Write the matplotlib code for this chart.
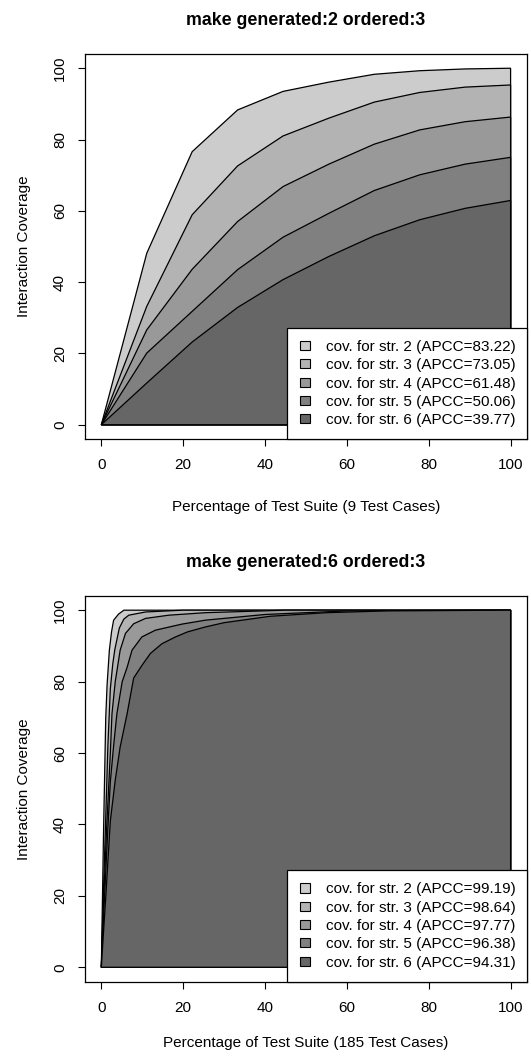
import numpy as np
import matplotlib.pyplot as plt
from matplotlib.patches import Patch, Rectangle

plt.rcParams['font.family'] = ['Liberation Sans', 'DejaVu Sans']

# top chart: 9 test cases
x_top = [0, 11.1, 22.2, 33.3, 44.4, 55.6, 66.7, 77.8, 88.9, 100]
top_str2 = [0, 48.1, 76.6, 88.3, 93.5, 96.1, 98.3, 99.3, 99.8, 100]
top_str3 = [0, 33.2, 58.9, 72.6, 81.0, 86.0, 90.5, 93.2, 94.7, 95.3]
top_str4 = [0, 26.6, 43.6, 57.0, 66.8, 73.1, 78.7, 82.7, 85.0, 86.3]
top_str5 = [0, 20.1, 31.8, 43.5, 52.6, 59.3, 65.7, 70.1, 73.1, 75.0]
top_str6 = [0, 11.7, 23.2, 32.9, 40.7, 47.2, 53.0, 57.5, 60.7, 62.9]
top_apcc = [83.22, 73.05, 61.48, 50.06, 39.77]

# bottom chart: 185 test cases
b2_x = [0, 0.54, 1.08, 1.4, 1.96, 2.5, 3.0, 4.2, 5.5, 100]
b2_y = [0, 38, 70, 79, 88.8, 94, 97.2, 98.9, 100, 100]
b3_x = [0, 0.54, 1.0, 1.6, 2.2, 2.8, 3.3, 4.4, 5.5, 6.7, 10.8, 20, 100]
b3_y = [0, 22, 39, 62, 78, 85, 89, 95, 97.5, 98.6, 99.5, 100, 100]
b4_x = [0, 0.54, 1.3, 2.2, 2.6, 3.4, 4.6, 5.9, 7.9, 10.8, 16.5, 25.4, 45, 100]
b4_y = [0, 18, 39, 60, 71, 80, 88.8, 93.5, 96.2, 97.7, 98.6, 99.3, 100, 100]
b5_x = [0, 0.54, 1.6, 2.2, 3.0, 3.8, 5.1, 6.3, 7.5, 9.9, 13.2, 19.7, 25.4, 40, 60, 100]
b5_y = [0, 14, 39, 52, 62, 71, 80, 84, 88.8, 92.5, 94.4, 96.1, 97.2, 98.8, 99.8, 100]
b6_x = [0, 0.54, 1.1, 2.2, 3.4, 4.6, 6.3, 7.9, 9.9, 12, 14.8, 18.1, 21, 25.4, 30, 41.3, 55, 70, 100]
b6_y = [0, 10, 20, 41, 52.4, 61.7, 71, 81, 84.5, 87.9, 90.6, 92.5, 93.9, 95.3, 96.5, 98.3, 99.3, 99.8, 100]
bottom_apcc = [99.19, 98.64, 97.77, 96.38, 94.31]

strengths = [2, 3, 4, 5, 6]
greys = ['#cccccc', '#b3b3b3', '#999999', '#808080', '#666666']

fig = plt.figure(figsize=(5.31, 10.56), dpi=100)
ax1 = fig.add_axes([0.160, 0.5843, 0.8324, 0.3646])
ax2 = fig.add_axes([0.160, 0.0705, 0.8324, 0.3652])

def draw(ax, xs, ys, apcc, title, xlabel, xpad):
    for x, y, c in zip(xs, ys, greys):
        px = list(x) + [x[-1], x[0]]
        py = list(y) + [0, 0]
        ax.fill(px, py, facecolor=c, edgecolor='black', linewidth=0.9)
    ax.set_xlim(-4, 104)
    ax.set_ylim(-4, 104)
    ax.set_xticks([0, 20, 40, 60, 80, 100])
    ax.set_yticks([0, 20, 40, 60, 80, 100])
    ax.tick_params(direction='out', length=5, width=0.8, labelsize=11, pad=9)
    ax.tick_params(axis='y', pad=8)
    for lab in ax.get_yticklabels():
        lab.set_rotation(90)
        lab.set_va('center')
    for sp in ax.spines.values():
        sp.set_linewidth(0.9)
    ax.set_title(title, fontsize=12.8, fontweight='bold', pad=21)
    ax.set_xlabel(xlabel, fontsize=11, labelpad=xpad)
    ax.set_ylabel('Interaction Coverage', fontsize=11, labelpad=16)
    # legend box (R style, bottom right)
    ax.add_patch(Rectangle((0.457, 0), 0.543, 0.288, transform=ax.transAxes,
                           facecolor='white', edgecolor='black', linewidth=0.9,
                           zorder=4, clip_on=False))
    handles = [Patch(facecolor=c, edgecolor='black', linewidth=0.8) for c in greys]
    labels = ['cov. for str. %d (APCC=%.2f)' % (s, a) for s, a in zip(strengths, apcc)]
    leg = ax.legend(handles, labels, loc='center', bbox_to_anchor=(0.7305, 0.144),
                    fontsize=11, frameon=False, handlelength=0.65, handleheight=0.55,
                    handletextpad=1.0, labelspacing=0.28, borderpad=0)
    leg.set_zorder(5)

draw(ax1, [x_top] * 5, [top_str2, top_str3, top_str4, top_str5, top_str6], top_apcc,
     'make generated:2 ordered:3', 'Percentage of Test Suite (9 Test Cases)', 20)
draw(ax2, [b2_x, b3_x, b4_x, b5_x, b6_x], [b2_y, b3_y, b4_y, b5_y, b6_y], bottom_apcc,
     'make generated:6 ordered:3', 'Percentage of Test Suite (185 Test Cases)', 15)

fig.savefig('out.png', dpi=100)
